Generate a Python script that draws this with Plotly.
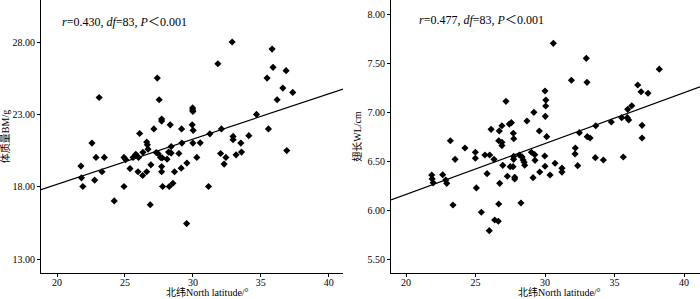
import plotly.graph_objects as go
from plotly.subplots import make_subplots

# Left panel: latitude vs body mass (BM, g)
lat_bm = [22.57, 23.1, 26.08, 26.6, 26.65, 26.7, 27.13, 27.38, 27.52, 27.7, 27.7, 28.33, 28.4,
          29.17, 29.19, 29.98, 29.98, 30.0, 29.95, 30.02, 30.0, 30.54, 31.25, 31.84, 32.1, 32.89,
          32.96, 32.96, 33.53, 34.12, 34.68, 35.46, 35.56, 35.83, 35.9, 36.2, 36.62, 36.86, 36.91,
          37.35, 21.76, 21.8, 21.9, 22.77, 22.87, 23.31, 23.48, 24.21, 24.93, 25.05, 24.93, 25.37,
          25.6, 25.8, 26.0, 25.96, 26.32, 26.3, 26.6, 26.91, 26.86, 27.3, 27.43, 27.62, 27.74, 27.7,
          27.7, 27.77, 28.21, 28.4, 28.1, 28.26, 28.53, 28.65, 28.97, 29.14, 29.54, 29.56, 30.29,
          31.15, 32.04, 32.3, 32.43, 33.18, 33.58]
bm = [21.02, 24.17, 21.68, 21.09, 20.9, 20.6, 22.0, 25.51, 24.01, 22.68, 22.54, 22.28, 20.78,
      22.0, 21.02, 23.45, 23.3, 23.2, 22.28, 21.9, 21.02, 21.04, 21.66, 26.5, 22.0, 28.0,
      21.48, 21.25, 21.02, 21.53, 23.0, 25.51, 22.0, 27.51, 26.25, 24.01, 24.82, 26.02, 20.5,
      24.52, 19.43, 18.62, 18.02, 18.46, 20.03, 19.04, 20.03, 17.03, 20.03, 19.88, 18.02, 19.26,
      20.03, 20.25, 20.03, 19.04, 20.38, 18.78, 19.04, 19.52, 16.76, 20.37, 20.3, 20.03, 20.0, 19.4,
      19.04, 18.02, 20.4, 20.33, 19.91, 18.02, 18.25, 19.04, 20.3, 19.29, 15.46, 19.64, 20.03,
      18.02, 20.3, 19.57, 20.03, 20.21, 20.4]

# Right panel: latitude vs wing length (WL, cm)
lat_wl = [23.19, 24.24, 26.12, 26.67, 26.71, 26.9, 26.9, 26.9, 27.19, 27.43, 27.58, 27.72, 27.75,
          28.7, 29.2, 29.59, 30.0, 30.06, 30.05, 30.02, 30.12, 30.6, 31.9, 32.18, 32.47, 32.97,
          33.02, 33.04, 33.24, 33.65, 34.77, 35.52, 35.92, 36.02, 35.95, 36.24, 36.67, 36.91, 37.41,
          38.22, 36.98, 36.98, 21.85, 21.88, 21.95, 22.64, 22.86, 22.93, 23.38, 23.53, 24.99, 24.99,
          25.06, 25.42, 25.68, 26.02, 25.83, 25.99, 26.33, 26.38, 26.64, 26.67, 26.74, 26.96, 27.29,
          27.5, 27.7, 27.74, 27.74, 27.82, 27.82, 28.15, 28.35, 28.42, 28.5, 28.54, 28.27, 29.02,
          29.26, 29.14, 29.28, 29.62, 29.98, 30.0, 30.36, 30.72, 31.22, 31.22, 32.16, 32.35, 33.62,
          34.2, 35.63]
wl = [6.71, 6.636, 6.826, 6.71, 6.81, 6.863, 6.694, 6.66, 7.112, 6.88, 6.894, 6.786, 6.73,
      6.911, 7.0, 6.809, 7.217, 7.125, 7.064, 6.959, 6.751, 7.704, 7.327, 6.636, 6.792, 7.551,
      7.306, 6.751, 6.738, 6.863, 6.901, 6.945, 6.945, 6.921, 7.03, 7.067, 7.279, 7.21, 7.194,
      7.44, 6.867, 6.738, 6.36, 6.32, 6.28, 6.363, 6.309, 6.275, 6.054, 6.52, 6.592, 6.531,
      6.228, 5.98, 6.564, 6.564, 6.374, 5.792, 6.52, 5.901, 5.888, 6.064, 6.275, 6.459, 6.347,
      6.445, 6.445, 6.55, 6.52, 6.336, 6.319, 6.564, 6.545, 6.513, 6.49, 6.46, 6.074, 6.592,
      6.568, 6.333, 6.51, 6.391, 6.554, 6.449, 6.36, 6.48, 6.43, 6.39, 6.575, 6.455, 6.537,
      6.513, 6.544]

# Regression lines: y = intercept + slope * x
fit_bm = {"slope": 0.3126, "intercept": 11.92}
fit_wl = {"slope": 0.0520, "intercept": 5.121}

x_ticks = [20, 25, 30, 35, 40]
bm_ticks = [13, 18, 23, 28]
wl_ticks = [5.5, 6.0, 6.5, 7.0, 7.5, 8.0]

x_range_l = [18.82, 41.05]
x_range_r = [18.92, 41.15]
y_range_l = [12.05, 30.9]
y_range_r = [5.36, 8.146]

FONT = "Liberation Serif, Times New Roman, Noto Sans CJK SC, serif"

fig = make_subplots(rows=1, cols=2)

fig.add_trace(go.Scatter(x=lat_bm, y=bm, mode="markers",
                         marker=dict(symbol="diamond", size=5.5, color="black"),
                         showlegend=False, hoverinfo="skip"), row=1, col=1)
fig.add_trace(go.Scatter(x=x_range_l,
                         y=[fit_bm["intercept"] + fit_bm["slope"] * v for v in x_range_l],
                         mode="lines", line=dict(color="black", width=1.2),
                         showlegend=False, hoverinfo="skip"), row=1, col=1)
fig.add_trace(go.Scatter(x=lat_wl, y=wl, mode="markers",
                         marker=dict(symbol="diamond", size=5.5, color="black"),
                         showlegend=False, hoverinfo="skip"), row=1, col=2)
fig.add_trace(go.Scatter(x=x_range_r,
                         y=[fit_wl["intercept"] + fit_wl["slope"] * v for v in x_range_r],
                         mode="lines", line=dict(color="black", width=1.2),
                         showlegend=False, hoverinfo="skip"), row=1, col=2)

W, H = 700, 299
ML, MB = 41, 26
PW, PH = W - ML, H - MB


def px2x(px):
    return (px - ML) / PW


def py2y(py):
    return 1 - py / PH


axis_common = dict(showgrid=False, zeroline=False, showline=True, linecolor="black",
                   linewidth=1, ticks="outside", ticklen=3, tickcolor="black",
                   tickfont=dict(family=FONT, size=10, color="black"))

fig.update_xaxes(**axis_common, range=x_range_l, tickvals=x_ticks, ticklabelstandoff=-3,
                 domain=[0, px2x(343)], row=1, col=1)
fig.update_xaxes(**axis_common, range=x_range_r, tickvals=x_ticks, ticklabelstandoff=-3,
                 domain=[px2x(391), 1], row=1, col=2)
fig.update_yaxes(**axis_common, range=y_range_l, tickvals=bm_ticks,
                 ticktext=[f"{v:.2f}" for v in bm_ticks],
                 title=dict(text="体质量BM/g", standoff=2,
                            font=dict(family=FONT, size=10, color="black")),
                 row=1, col=1)
fig.update_yaxes(**axis_common, range=y_range_r, tickvals=wl_ticks,
                 ticktext=[f"{v:.2f}" for v in wl_ticks],
                 title=dict(text="翅长WL/cm", standoff=4,
                            font=dict(family=FONT, size=10, color="black")),
                 row=1, col=2)

ann_font = dict(family=FONT, size=12, color="black")
fig.add_annotation(xref="paper", yref="paper", x=px2x(60), y=py2y(22),
                   xanchor="left", yanchor="middle", showarrow=False,
                   text="<i>r</i>=0.430, <i>df</i>=83, <i>P</i>＜0.001", font=ann_font)
fig.add_annotation(xref="paper", yref="paper", x=px2x(417), y=py2y(20),
                   xanchor="left", yanchor="middle", showarrow=False,
                   text="<i>r</i>=0.477, <i>df</i>=83, <i>P</i>＜0.001", font=ann_font)

title_font = dict(family=FONT, size=10, color="black")
fig.add_annotation(xref="paper", yref="paper", x=px2x(207), y=py2y(292),
                   xanchor="center", yanchor="middle", showarrow=False,
                   text="北纬North latitude/°", font=title_font)
fig.add_annotation(xref="paper", yref="paper", x=px2x(559), y=py2y(292),
                   xanchor="center", yanchor="middle", showarrow=False,
                   text="北纬North latitude/°", font=title_font)

fig.update_layout(width=W, height=H, margin=dict(l=ML, r=0, t=0, b=MB),
                  plot_bgcolor="white", paper_bgcolor="white",
                  font=dict(family=FONT, color="black"), hovermode=False)

fig.write_html("out.html", config={"displayModeBar": False},
               post_script="document.body.style.margin='0px';"
                           "document.body.style.overflow='hidden';")
